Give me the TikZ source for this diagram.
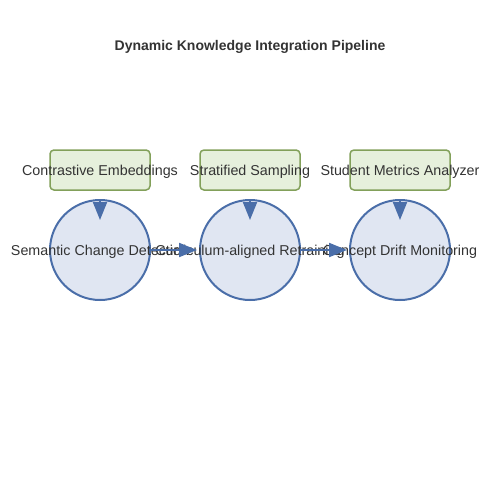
\documentclass[tikz,border=0pt]{standalone}
\usepackage{fontspec}
\setmainfont{Liberation Sans}
\usetikzlibrary{arrows.meta,calc}
\definecolor{boxfill}{HTML}{E6F0DC}
\definecolor{boxdraw}{HTML}{82A05A}
\definecolor{circfill}{HTML}{E0E6F2}
\definecolor{circdraw}{HTML}{4A6EA9}
\definecolor{txt}{HTML}{333333}
\tikzset{
  x=1pt, y=-1pt,
  srcbox/.style={draw=boxdraw, fill=boxfill, line width=1.5pt, rounded corners=4pt,
    minimum width=100pt, minimum height=40pt, inner sep=0pt},
  procnode/.style={circle, draw=circdraw, fill=circfill, line width=2pt,
    minimum size=100pt, inner sep=0pt},
  lbl/.style={text=txt, font=\fontsize{14.3}{16}\selectfont, yshift=-2pt},
  flow/.style={draw=circdraw, line width=2pt,
    -{Triangle[length=18pt,width=14pt]}},
  ttl/.style={text=txt, font=\bfseries\fontsize{14}{16}\selectfont}
}
\begin{document}
\begin{tikzpicture}
\useasboundingbox (0,0) rectangle (500,500);
\node[ttl] (title) at (250,47) {Dynamic Knowledge Integration Pipeline};
\node[srcbox] (b1) at (100,170) {};
\node[srcbox] (b2) at (250,170) {};
\node[srcbox] (b3) at (400,170) {};
\node[procnode] (c1) at (100,250) {};
\node[procnode] (c2) at (250,250) {};
\node[procnode] (c3) at (400,250) {};
\node[lbl] (l1) at (b1) {Contrastive Embeddings};
\node[lbl] (l2) at (b2) {Stratified Sampling};
\node[lbl] (l3) at (b3) {Student Metrics Analyzer};
\node[lbl] (m1) at (c1) {Semantic Change Detection};
\node[lbl] (m2) at (c2) {Curriculum-aligned Retraining};
\node[lbl] (m3) at (c3) {Concept Drift Monitoring};
\draw[flow, shorten <=10pt] (b1.south) -- ($(c1.north)+(0,21)$);
\draw[flow, shorten <=10pt] (b2.south) -- ($(c2.north)+(0,21)$);
\draw[flow, shorten <=10pt] (b3.south) -- ($(c3.north)+(0,21)$);
\draw[flow] (c1.east) -- ($(c2.west)+(-2,0)$);
\draw[flow] (c2.east) -- ($(c3.west)+(-2,0)$);
\end{tikzpicture}
\end{document}
